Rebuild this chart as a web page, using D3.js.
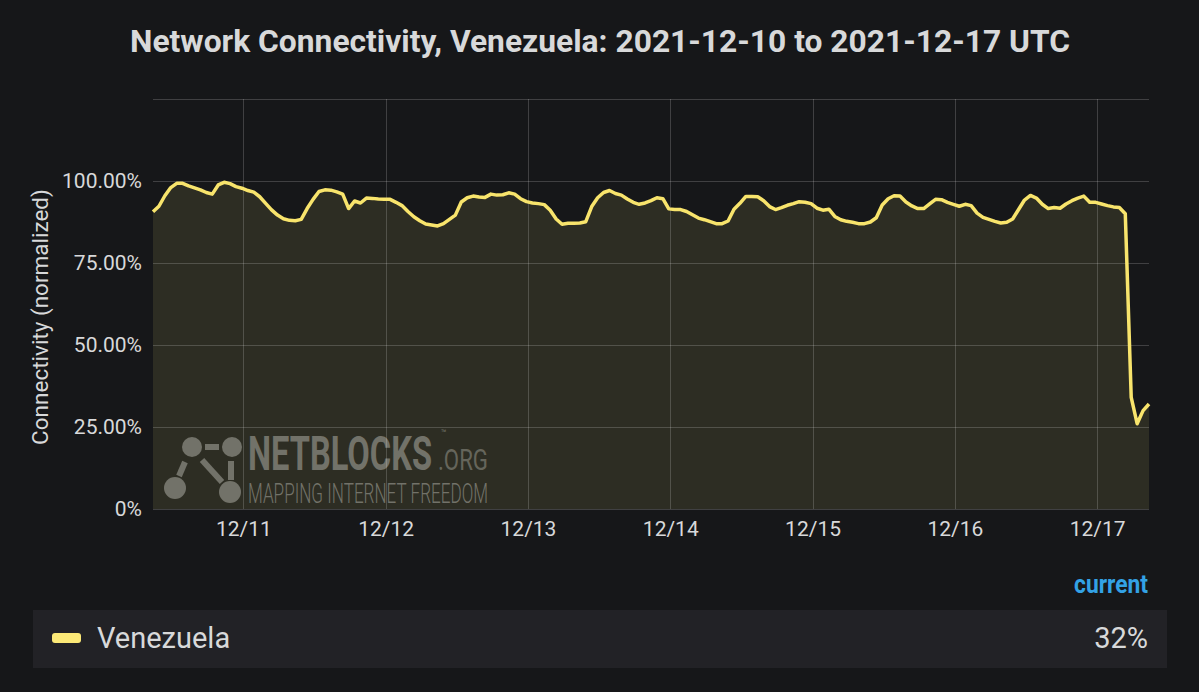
<!DOCTYPE html>
<html>
<head>
<meta charset="utf-8">
<script src="https://cdn.jsdelivr.net/npm/d3@7"></script>
<style>
  html, body { margin: 0; padding: 0; background: #161719; }
  svg { display: block; }
  text { font-family: Roboto, "Noto Sans", sans-serif; }
</style>
</head>
<body>
<svg id="chart" width="1199" height="692"></svg>
<script>
// ---- data (hourly samples, UTC, starting 2021-12-10 08:45) ----
const seriesName = "Venezuela";
const startTime = Date.UTC(2021, 11, 10, 8, 45);
const endTime = Date.UTC(2021, 11, 17, 8, 45);
const stepMinutes = 60;
const connectivity = [
  90.6, 92.3, 95.5, 98.0, 99.3, 99.3, 98.5, 97.9, 97.3, 96.5,
  96.0, 98.8, 99.6, 99.2, 98.3, 97.8, 97.1, 96.6, 95.2, 93.2,
  91.2, 89.6, 88.5, 88.0, 87.9, 88.3, 91.6, 94.4, 96.8, 97.3,
  97.2, 96.7, 96.0, 91.6, 93.9, 93.3, 94.8, 94.7, 94.5, 94.4,
  94.4, 93.5, 92.5, 90.7, 89.1, 87.9, 86.9, 86.6, 86.3, 87.0,
  88.3, 89.6, 93.6, 94.9, 95.4, 95.1, 95.0, 96.0, 95.7, 95.8,
  96.4, 96.0, 94.6, 93.7, 93.3, 93.1, 92.8, 91.1, 88.4, 86.8,
  87.1, 87.1, 87.2, 87.6, 92.2, 94.9, 96.5, 97.1, 96.2, 95.7,
  94.5, 93.5, 92.9, 93.3, 94.0, 94.9, 94.6, 91.5, 91.3, 91.3,
  90.7, 89.7, 88.7, 88.2, 87.6, 87.0, 87.0, 87.8, 91.4, 93.2,
  95.3, 95.3, 95.2, 94.0, 92.2, 91.3, 91.9, 92.6, 93.1, 93.7,
  93.5, 93.1, 91.7, 91.1, 91.4, 89.2, 88.2, 87.7, 87.4, 87.0,
  87.0, 87.5, 88.8, 92.7, 94.6, 95.5, 95.4, 93.6, 92.4, 91.6,
  91.6, 93.0, 94.4, 94.3, 93.5, 92.9, 92.3, 92.9, 92.5, 90.2,
  88.9, 88.3, 87.7, 87.2, 87.4, 88.4, 91.3, 94.2, 95.6, 94.8,
  92.9, 91.6, 91.9, 91.7, 93.0, 94.0, 94.8, 95.4, 93.5, 93.5,
  93.0, 92.5, 92.1, 91.9, 90.0, 34.0, 26.0, 30.0, 32.0
];
const yGridValues = [0, 25, 50, 75, 100, 125];
const yTickLabels = ["0%", "25.00%", "50.00%", "75.00%", "100.00%"];
const xTickLabels = ["12/11", "12/12", "12/13", "12/14", "12/15", "12/16", "12/17"];
const titleText = "Network Connectivity, Venezuela: 2021-12-10 to 2021-12-17 UTC";

const data = connectivity.map((v, i) => ({ t: new Date(startTime + i * stepMinutes * 60000), v }));

// ---- layout ----
const svg = d3.select("#chart");
const plot = { left: 153, right: 1149, top: 99, bottom: 509 };
const x = d3.scaleUtc().domain([new Date(startTime), new Date(endTime)]).range([plot.left, plot.right]);
const y = d3.scaleLinear().domain([0, 125]).range([plot.bottom, plot.top]);

// title
svg.append("text")
  .attr("x", 600).attr("y", 52)
  .attr("text-anchor", "middle")
  .attr("fill", "#d8d9da")
  .attr("font-size", 31).attr("font-weight", "bold")
  .attr("textLength", 940).attr("lengthAdjust", "spacingAndGlyphs")
  .text(titleText);

// area fill
const area = d3.area().x(d => x(d.t)).y0(y(0)).y1(d => y(d.v));
svg.append("path").datum(data).attr("d", area)
  .attr("fill", "rgba(240,228,120,0.11)");

// watermark
const wmColor = "#727269";
const wm = svg.append("g").attr("fill", wmColor).attr("stroke", wmColor);
[[192, 447, 10], [232, 447, 10], [175, 488, 11], [230, 492, 11]].forEach(c => {
  wm.append("circle").attr("cx", c[0]).attr("cy", c[1]).attr("r", c[2]).attr("stroke", "none");
});
[[205, 447, 219, 447], [185, 462, 179, 476], [202, 460, 222, 482], [231, 461, 231, 480]].forEach(l => {
  wm.append("line").attr("x1", l[0]).attr("y1", l[1]).attr("x2", l[2]).attr("y2", l[3]).attr("stroke-width", 6);
});
wm.append("text").attr("transform", "translate(248,470) scale(1,1.65)").attr("stroke", "none")
  .attr("font-family", "'DejaVu Sans Condensed', 'DejaVu Sans', sans-serif")
  .attr("font-weight", "bold").attr("font-size", 29)
  .attr("textLength", 184).attr("lengthAdjust", "spacingAndGlyphs")
  .text("NETBLOCKS");
wm.append("text").attr("x", 441).attr("y", 436).attr("stroke", "none")
  .attr("font-size", 9).text("™");
wm.append("text").attr("transform", "translate(438,470) scale(1,1.6)").attr("stroke", "none")
  .attr("font-family", "'DejaVu Sans Condensed', 'DejaVu Sans', sans-serif")
  .attr("font-size", 18).attr("fill", "#65655b")
  .attr("textLength", 50).attr("lengthAdjust", "spacingAndGlyphs")
  .text(".ORG");
wm.append("text").attr("x", 248).attr("y", 503).attr("stroke", "none")
  .attr("font-weight", 300).attr("font-size", 27)
  .attr("textLength", 240).attr("lengthAdjust", "spacingAndGlyphs")
  .text("MAPPING INTERNET FREEDOM");

// grid
const grid = svg.append("g").attr("stroke", "rgba(255,255,255,0.18)").attr("stroke-width", 1);
yGridValues.forEach(v => {
  grid.append("line").attr("x1", plot.left).attr("x2", plot.right)
    .attr("y1", Math.round(y(v)) + 0.5).attr("y2", Math.round(y(v)) + 0.5);
});
const dayTicks = d3.utcDay.range(new Date(startTime), new Date(endTime));
dayTicks.forEach(d => {
  grid.append("line").attr("y1", plot.top).attr("y2", plot.bottom)
    .attr("x1", Math.round(x(d)) + 0.5).attr("x2", Math.round(x(d)) + 0.5);
});

// axes labels
const yAxis = d3.axisLeft(y).tickValues(yGridValues.slice(0, yTickLabels.length))
  .tickFormat((d, i) => yTickLabels[i]).tickSize(0).tickPadding(11);
const gy = svg.append("g").attr("transform", `translate(${plot.left},0)`).call(yAxis);
gy.select(".domain").remove();
gy.selectAll("text").attr("fill", "#d8d9da").attr("font-size", 21)
  .attr("font-family", "Roboto, sans-serif");

const xAxis = d3.axisBottom(x).tickValues(dayTicks)
  .tickFormat((d, i) => xTickLabels[i]).tickSize(0).tickPadding(12);
const gx = svg.append("g").attr("transform", `translate(0,${plot.bottom})`).call(xAxis);
gx.select(".domain").remove();
gx.selectAll("text").attr("fill", "#d8d9da").attr("font-size", 21)
  .attr("font-family", "Roboto, sans-serif");

svg.append("text")
  .attr("transform", `translate(48,317) rotate(-90)`)
  .attr("text-anchor", "middle").attr("fill", "#d8d9da").attr("font-size", 22.5)
  .text("Connectivity (normalized)");

// line
const line = d3.line().x(d => x(d.t)).y(d => y(d.v));
svg.append("path").datum(data).attr("d", line)
  .attr("fill", "none").attr("stroke", "#f8e46c").attr("stroke-width", 3.5)
  .attr("stroke-linejoin", "round");

// legend
svg.append("text").attr("x", 1148).attr("y", 593).attr("text-anchor", "end")
  .attr("fill", "#33a2e5").attr("font-size", 25).attr("font-weight", "bold")
  .attr("textLength", 74).attr("lengthAdjust", "spacingAndGlyphs")
  .text("current");
svg.append("rect").attr("x", 33).attr("y", 610).attr("width", 1134).attr("height", 58)
  .attr("fill", "#222226");
svg.append("rect").attr("x", 52).attr("y", 633).attr("width", 29).attr("height", 10).attr("rx", 3)
  .attr("fill", "#fce977");
svg.append("text").attr("x", 97).attr("y", 648).attr("fill", "#d8d9da").attr("font-size", 29)
  .text(seriesName);
svg.append("text").attr("x", 1148).attr("y", 648).attr("text-anchor", "end")
  .attr("fill", "#d8d9da").attr("font-size", 29)
  .text(Math.round(connectivity[connectivity.length - 1]) + "%");
</script>
</body>
</html>
